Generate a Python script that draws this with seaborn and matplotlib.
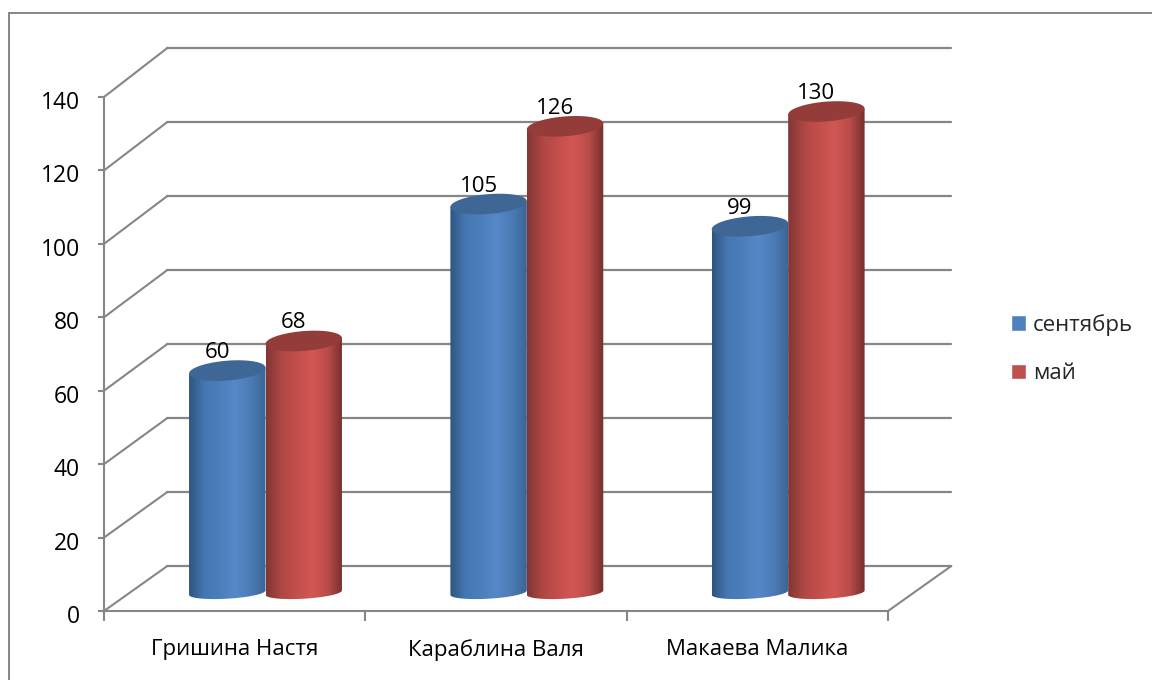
import numpy as np
import pandas as pd
import matplotlib
matplotlib.use('Agg')
import matplotlib.pyplot as plt
from matplotlib.colors import LinearSegmentedColormap
from matplotlib.patches import Polygon, Rectangle
from matplotlib.transforms import Affine2D
import seaborn as sns

names = ['Гришина Настя', 'Караблина Валя', 'Макаева Малика']
september = [60, 105, 99]
may = [68, 126, 130]
months = ['сентябрь', 'май']
y_ticks = [0, 20, 40, 60, 80, 100, 120, 140]

GREY = '#868686'
flat_colors = ['#4F81BD', '#C0504D']
top_colors = ['#3E6796', '#943C3A']
body_ramps = [
    ['#2F5480', '#4577B2', '#4C7EBB', '#5688C8', '#4C7CB6', '#3A6596'],
    ['#823634', '#AE4744', '#C34F4C', '#D15754', '#BA4C49', '#752F2D'],
]

sns.set_theme(style='white')
plt.rcParams['font.family'] = ['Open Sans', 'DejaVu Sans']

df = pd.DataFrame({
    'name': names * 2,
    'month': [months[0]] * 3 + [months[1]] * 3,
    'value': september + may,
})

fig = plt.figure(figsize=(11.52, 6.8), dpi=100)
ax = fig.add_axes([104 / 1152, 69 / 680, 784 / 1152, 514 / 680])

sns.barplot(data=df, x='name', y='value', hue='month', order=names, hue_order=months,
            palette=flat_colors, saturation=1, width=0.585, gap=0, ax=ax)


# back wall sits up and to the right of the front axes
def back(x, v):
    return x + 0.2425, v * 1.0078 + 12.26


# the cylinders stand a little way into the floor
def depth(x, v):
    return x + 0.118, v * 1.008 + 5.0


def rim(cx, cy, half_w, half_h, shear, t):
    return np.column_stack([cx + half_w * np.cos(t), cy + half_h * np.sin(t) + shear * np.cos(t)])


# walls and floor
for v in y_ticks:
    bx0, by = back(-0.5, v)
    bx1, _ = back(2.5, v)
    ax.plot([bx0, bx1], [by, by], color=GREY, lw=1.6, clip_on=False, zorder=1)
    ax.plot([-0.5, bx0], [v, by], color=GREY, lw=1.5, clip_on=False, zorder=1)
bx1, by = back(2.5, 0)
ax.plot([2.5, bx1], [0, by], color=GREY, lw=1.5, clip_on=False, zorder=1)

# turn each seaborn bar into a shaded cylinder
for i, container in enumerate(ax.containers):
    cmap = LinearSegmentedColormap.from_list(months[i], body_ramps[i])
    for bar in container:
        bar.set_visible(False)
        half_w = bar.get_width() / 2
        cx, y0 = depth(bar.get_x() + half_w, 0)
        _, y1 = depth(0, bar.get_height())
        bottom = rim(cx, y0, half_w, 1.65, 0.6, np.linspace(np.pi, 2 * np.pi, 60))
        top_edge = rim(cx, y1, half_w, 2.7, 0.8, np.array([0.0, np.pi]))
        body = Polygon(np.vstack([bottom, top_edge]), closed=True, transform=ax.transData)
        im = ax.imshow(np.linspace(0, 1, 256)[None, :], cmap=cmap, aspect='auto',
                       extent=[cx - half_w, cx + half_w, y0 - 3, y1 + 3], zorder=3 + i)
        im.set_clip_path(body)
        ax.add_patch(Polygon(rim(cx, y1, half_w, 2.7, 0.8, np.linspace(0, 2 * np.pi, 100)),
                             closed=True, facecolor=top_colors[i], edgecolor='none',
                             clip_on=False, zorder=3.5 + i))
        ax.annotate(f'{bar.get_height():.0f}', (cx, y1), xytext=(-10, 18),
                    textcoords='offset pixels', ha='center', va='center',
                    fontsize=16, color='black', zorder=8)

ax.set_xlim(-0.5, 2.5)
ax.set_ylim(0, 140)
ax.set_yticks(y_ticks)
ax.set_xticks([0, 1, 2], names)
ax.set_xticks([-0.5, 0.5, 1.5, 2.5], minor=True)
ax.set_xlabel('')
ax.set_ylabel('')
ax.tick_params(axis='x', which='major', length=0, pad=20.5, labelsize=16, labelcolor='black')
ax.tick_params(axis='x', which='minor', length=7, width=1.5, color=GREY, bottom=True)
ax.tick_params(axis='y', length=4.5, width=1.5, color=GREY, left=True, pad=13,
               labelsize=16.5, labelcolor='black')
# value labels sit a few pixels under their tick in the original
for label in ax.get_yticklabels():
    label.set_transform(label.get_transform() + Affine2D().translate(0, -3))
for side in ['top', 'right']:
    ax.spines[side].set_visible(False)
for side in ['left', 'bottom']:
    ax.spines[side].set_color(GREY)
    ax.spines[side].set_linewidth(1.5)
ax.patch.set_alpha(0)

sns.move_legend(ax, 'center left', bbox_to_anchor=(991 / 1152, 331 / 680),
                bbox_transform=fig.transFigure, frameon=False, title=None, fontsize=16,
                handlelength=0.68, handleheight=0.68, handletextpad=0.32, labelspacing=1.23)

fig.add_artist(Rectangle((9 / 1152, -0.05), 1.1, 1.05 - 13 / 680, transform=fig.transFigure,
                         facecolor='none', edgecolor=GREY, lw=1.4))

fig.savefig('out.png', dpi=100)
